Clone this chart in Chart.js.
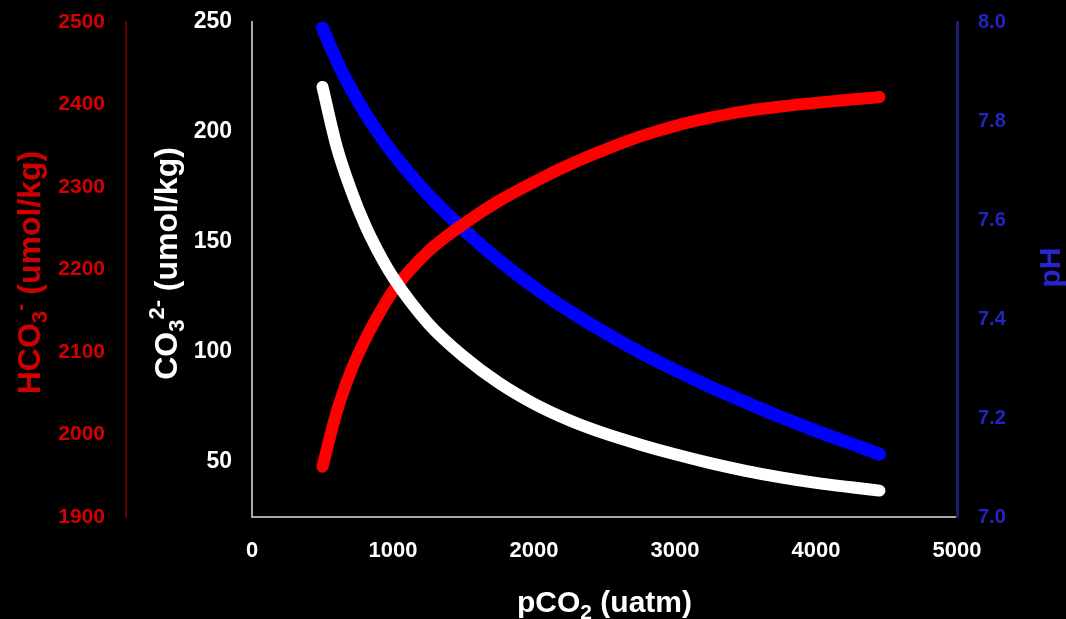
<!DOCTYPE html>
<html>
<head>
<meta charset="utf-8">
<script src="https://cdn.jsdelivr.net/npm/chart.js@4.4.1/dist/chart.umd.min.js"></script>
<style>
  html, body { margin: 0; padding: 0; background: #000; }
  #wrap { width: 1066px; height: 619px; position: relative; }
</style>
</head>
<body>
<div id="wrap"><canvas id="chart"></canvas></div>
<script>
// pCO2 (uatm) sample points along the curves
const pco2 = [500, 600, 700, 800, 900, 1000, 1250, 1500, 1750, 2000, 2250, 2500, 2750, 3000, 3250, 3500, 3750, 4000, 4250, 4450];
const hco3 = [1961, 2027, 2076, 2114, 2146, 2174, 2222, 2255, 2283, 2306, 2327, 2345, 2361, 2374, 2384, 2392, 2397.5, 2402, 2406, 2409];
const co3  = [220.5, 193.5, 174, 158, 145, 134, 113, 98, 86, 76.5, 69, 63, 58, 53.5, 49.5, 46, 43, 40.5, 38.5, 37];
const ph   = [7.988, 7.922, 7.866, 7.817, 7.774, 7.735, 7.651, 7.581, 7.519, 7.464, 7.416, 7.373, 7.333, 7.297, 7.263, 7.232, 7.202, 7.174, 7.148, 7.127];

const xTicks    = [0, 1000, 2000, 3000, 4000, 5000];
const hco3Ticks = [1900, 2000, 2100, 2200, 2300, 2400, 2500];
const co3Ticks  = [50, 100, 150, 200, 250];
const phTicks   = [7.0, 7.2, 7.4, 7.6, 7.8, 8.0];

const FONT = '"Liberation Sans", Arial, sans-serif';
const pts = ys => pco2.map((x, i) => ({x, y: ys[i]}));
const fixTicks = list => scale => { scale.ticks = list.map(v => ({value: v})); };
// fixed axis width, and no extra top/bottom padding from the tick labels
const fixWidth = w => s => { s.width = w; s.paddingTop = 0; s.paddingBottom = 0; };

// axis titles with sub/superscripts
function drawRich(ctx, parts, x, y, size, color, angle) {
  ctx.save();
  ctx.translate(x, y);
  ctx.rotate(angle);
  ctx.fillStyle = color;
  ctx.textBaseline = 'alphabetic';
  const fontFor = p => 'bold ' + (p.sub || p.sup ? Math.round(size * 0.7) : size) + 'px ' + FONT;
  let total = 0;
  parts.forEach(p => { ctx.font = fontFor(p); total += ctx.measureText(p.t).width; });
  let cx = -total / 2;
  parts.forEach(p => {
    ctx.font = fontFor(p);
    const dy = p.sub ? size * 0.22 : p.sup ? -size * 0.42 : 0;
    ctx.fillText(p.t, cx, dy);
    cx += ctx.measureText(p.t).width;
  });
  ctx.restore();
}

const titles = {
  id: 'titles',
  afterDraw(chart) {
    const ctx = chart.ctx;
    const a = chart.chartArea;
    const midY = (a.top + a.bottom) / 2;
    drawRich(ctx, [{t: 'HCO'}, {t: '3', sub: true}, {t: '-', sup: true}, {t: ' (umol/kg)'}],
      40, midY + 3, 32, '#d00000', -Math.PI / 2);
    drawRich(ctx, [{t: 'CO'}, {t: '3', sub: true}, {t: '2-', sup: true}, {t: ' (umol/kg)'}],
      177, midY - 6, 32, '#ffffff', -Math.PI / 2);
    drawRich(ctx, [{t: 'pH'}], 1060, midY - 2, 30, '#2626d0', -Math.PI / 2);
    drawRich(ctx, [{t: 'pCO'}, {t: '2', sub: true}, {t: ' (uatm)'}],
      (a.left + a.right) / 2, 612, 30, '#ffffff', 0);
  }
};

new Chart(document.getElementById('chart'), {
  type: 'line',
  data: {
    datasets: [
      { label: 'CO3', data: pts(co3), yAxisID: 'yCo3', borderColor: '#ffffff', borderWidth: 12 },
      { label: 'HCO3', data: pts(hco3), yAxisID: 'yHco3', borderColor: '#ff0000', borderWidth: 12 },
      { label: 'pH', data: pts(ph), yAxisID: 'yPh', borderColor: '#0000ff', borderWidth: 13 }
    ]
  },
  options: {
    responsive: true,
    maintainAspectRatio: false,
    animation: false,
    layout: { padding: { top: 22, left: 0, right: 0, bottom: 0 } },
    datasets: {
      line: { pointRadius: 0, cubicInterpolationMode: 'monotone', borderCapStyle: 'round', borderJoinStyle: 'round' }
    },
    plugins: { legend: { display: false }, tooltip: { enabled: false } },
    scales: {
      x: {
        type: 'linear', position: 'bottom', min: 0, max: 5000,
        afterBuildTicks: fixTicks(xTicks),
        afterFit: s => { s.height = 102; },
        grid: { display: false, drawTicks: false },
        border: { color: '#a8a8a8', width: 2 },
        ticks: { color: '#ffffff', font: { family: FONT, size: 22, weight: 'bold' }, padding: 21, callback: v => String(v) }
      },
      yHco3: {
        type: 'linear', position: 'left', weight: 10, min: 1900, max: 2500,
        afterBuildTicks: fixTicks(hco3Ticks),
        afterFit: fixWidth(126),
        grid: { display: false, drawTicks: false },
        border: { color: '#5c0000', width: 2 },
        ticks: { color: '#d40000', font: { family: FONT, size: 21, weight: 'bold' }, padding: 21, callback: v => String(v) }
      },
      yCo3: {
        type: 'linear', position: 'left', weight: 5, min: 25, max: 250,
        afterBuildTicks: fixTicks(co3Ticks),
        afterFit: fixWidth(126),
        grid: { display: false, drawTicks: false },
        border: { color: '#a8a8a8', width: 2 },
        ticks: { color: '#ffffff', font: { family: FONT, size: 23, weight: 'bold' }, padding: 20, callback: v => String(v) }
      },
      yPh: {
        type: 'linear', position: 'right', min: 7.0, max: 8.0,
        afterBuildTicks: fixTicks(phTicks),
        afterFit: fixWidth(109),
        grid: { display: false, drawTicks: false },
        border: { color: '#1c1c72', width: 3 },
        ticks: { color: '#2424c4', font: { family: FONT, size: 20, weight: 'bold' }, padding: 21, callback: v => v.toFixed(1) }
      }
    }
  },
  plugins: [titles]
});
</script>
</body>
</html>
